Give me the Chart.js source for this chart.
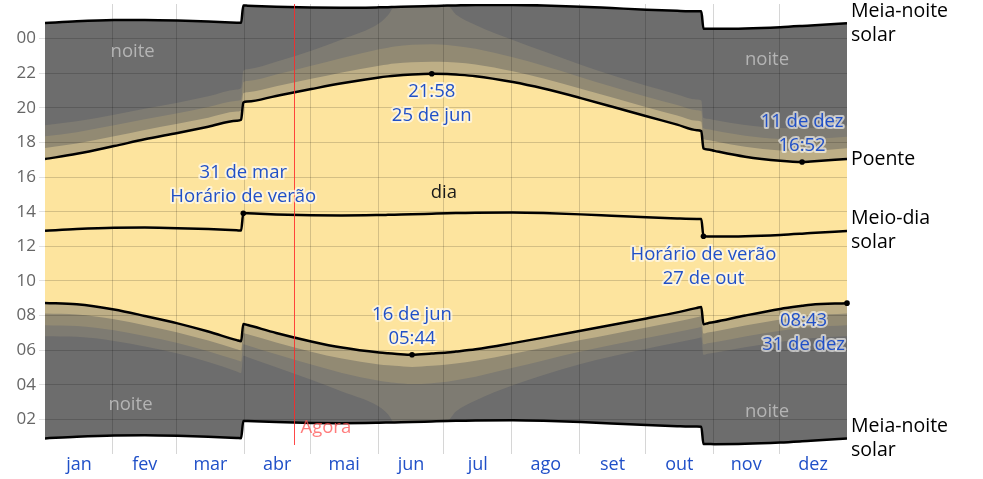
<!DOCTYPE html>
<html><head><meta charset="utf-8">
<script src="https://cdn.jsdelivr.net/npm/chart.js@4.4.1/dist/chart.umd.min.js"></script>
<style>html,body{margin:0;padding:0;background:#fff}#wrap{width:983px;height:479px}</style>
</head><body><div id="wrap"><canvas id="c" width="983" height="479"></canvas></div>
<script>
// ---- data (day of year, hours in local clock time) ----
const days = [0,14.5,31.5,45.5,60.5,74.5,87.5,89.5,90.5,92.5,105.5,121.5,135.5,152.5,156.5,159.5,167.5,176.5,183.5,187.5,196.5,213.5,227.5,244.5,258.5,274.5,288.5,297.5,299.5,300.5,302.5,305.5,319.5,335.5,345.5,349.5,366];
const midnightStart = [0.898,0.997,1.070,1.080,1.050,0.993,0.923,0.913,1.913,1.903,1.843,1.795,1.782,1.807,1.818,1.827,1.850,1.883,1.908,1.920,1.942,1.948,1.918,1.845,1.765,1.673,1.607,1.582,1.577,0.577,0.572,0.570,0.587,0.660,0.730,0.762,0.890];
const astroDawn = [6.804,6.768,6.536,6.211,5.802,5.313,4.766,4.676,5.676,5.586,5.019,4.286,3.610,2.730,2.300,1.827,1.850,1.883,1.908,2.450,3.093,3.973,4.567,5.198,5.631,6.075,6.436,6.668,6.731,5.731,5.794,5.843,6.164,6.483,6.636,6.691,6.803];
const nauticalDawn = [7.443,7.398,7.151,6.820,6.413,5.940,5.424,5.347,6.347,6.270,5.763,5.164,4.683,4.232,4.158,4.115,4.040,4.092,4.179,4.260,4.463,4.979,5.409,5.916,6.292,6.698,7.045,7.277,7.340,6.340,6.403,6.453,6.784,7.117,7.275,7.331,7.443];
const civilDawn = [8.113,8.054,7.783,7.435,7.021,6.553,6.050,5.983,6.983,6.916,6.442,5.913,5.515,5.175,5.125,5.097,5.030,5.096,5.166,5.227,5.382,5.786,6.140,6.580,6.922,7.309,7.654,7.896,7.956,6.956,7.016,7.075,7.424,7.778,7.945,8.004,8.115];
const sunrise = [8.729,8.652,8.349,7.978,7.549,7.076,6.578,6.515,7.515,7.452,6.996,6.505,6.148,5.859,5.818,5.796,5.733,5.805,5.867,5.920,6.055,6.407,6.723,7.126,7.451,7.833,8.184,8.440,8.500,7.500,7.560,7.626,8.000,8.383,8.561,8.624,8.717];
const solarNoon = [12.898,12.997,13.070,13.080,13.050,12.993,12.923,12.913,13.913,13.903,13.843,13.795,13.782,13.807,13.818,13.827,13.850,13.883,13.908,13.920,13.942,13.948,13.918,13.845,13.765,13.673,13.607,13.582,13.577,12.577,12.572,12.570,12.587,12.660,12.730,12.762,12.890];
const sunset = [17.040,17.342,17.791,18.182,18.551,18.910,19.258,19.311,20.311,20.364,20.690,21.085,21.416,21.755,21.818,21.858,21.928,21.967,21.949,21.920,21.829,21.489,21.113,20.564,20.079,19.513,19.030,18.711,18.654,17.654,17.597,17.514,17.174,16.937,16.867,16.900,17.048];
const civilDusk = [17.683,17.940,18.357,18.725,19.079,19.433,19.783,19.843,20.843,20.903,21.244,21.677,22.049,22.439,22.511,22.557,22.637,22.670,22.650,22.613,22.502,22.110,21.696,21.110,20.608,20.037,19.560,19.251,19.198,18.198,18.145,18.065,17.750,17.542,17.515,17.520,17.665];
const nauticalDusk = [18.353,18.596,18.989,19.340,19.687,20.046,20.409,20.479,21.479,21.549,21.923,22.426,22.881,23.382,23.478,23.539,23.641,23.674,23.637,23.580,23.421,22.917,22.427,21.774,21.238,20.648,20.169,19.867,19.814,18.814,18.761,18.687,18.390,18.203,18.185,18.193,18.337];
const astroDusk = [18.992,19.226,19.604,19.949,20.298,20.673,21.063,21.150,22.150,22.237,22.667,23.304,23.954,24.884,25.350,25.827,25.850,25.883,25.908,25.400,24.791,23.923,23.269,22.492,21.899,21.271,20.778,20.476,20.423,19.423,19.370,19.297,19.010,18.837,18.824,18.833,18.977];
const midnightEnd = [24.898,24.997,25.070,25.080,25.050,24.993,24.923,24.913,25.913,25.903,25.843,25.795,25.782,25.807,25.818,25.827,25.850,25.883,25.908,25.920,25.942,25.948,25.918,25.845,25.765,25.673,25.607,25.582,25.577,24.577,24.572,24.570,24.587,24.660,24.730,24.762,24.890];

const monthNames = ['jan','fev','mar','abr','mai','jun','jul','ago','set','out','nov','dez'];
const monthStarts = [0,31,60,91,121,152,182,213,244,274,305,335,366];
const hourTicks = [2,4,6,8,10,12,14,16,18,20,22,24];
const nowDay = 113.5;

// ---- styling ----
const FAM = '"Open Sans", "Noto Sans", sans-serif';
const NIGHT = '#6d6d6d', ASTRO = '#7e7b72', NAUT = '#928a73', CIVIL = '#bdae86', DAY = '#fde49e';
const BLUE = '#2050c8';
const GRID = 'rgba(0,0,0,0.16)';

const monthMids = monthNames.map((m, i) => (monthStarts[i] + monthStarts[i + 1]) / 2);
const xTickVals = monthStarts.slice(1, -1).concat(monthMids).sort((a, b) => a - b);

function ds(values, bg, order, line) {
  return {
    data: days.map((d, i) => ({x: d, y: values[i]})),
    backgroundColor: bg || 'rgba(0,0,0,0)',
    fill: bg ? 'start' : false,
    borderColor: line ? '#000' : 'rgba(0,0,0,0)',
    borderWidth: line ? 2.5 : 1,
    pointRadius: 0,
    cubicInterpolationMode: 'monotone',
    order: order
  };
}

const datasets = [
  ds(midnightEnd, NIGHT, 10, true),
  ds(astroDusk, ASTRO, 9, false),
  ds(nauticalDusk, NAUT, 8, false),
  ds(civilDusk, CIVIL, 7, false),
  ds(sunset, DAY, 6, true),
  ds(sunrise, CIVIL, 5, true),
  ds(civilDawn, NAUT, 4, false),
  ds(nauticalDawn, ASTRO, 3, false),
  ds(astroDawn, NIGHT, 2, false),
  ds(midnightStart, '#ffffff', 1, true),
  ds(solarNoon, null, 0, true)
];

const callouts = [
  {s: solarNoon, i: 8, lines: ['31 de mar', 'Horário de verão'], above: true},
  {s: sunset, i: 17, lines: ['21:58', '25 de jun'], above: false},
  {s: sunrise, i: 16, lines: ['16 de jun', '05:44'], above: true},
  {s: solarNoon, i: 29, lines: ['Horário de verão', '27 de out'], above: false},
  {s: sunset, i: 34, lines: ['11 de dez', '16:52'], above: true},
  {s: sunrise, i: 36, lines: ['08:43', '31 de dez'], above: false}
];
const rightLabels = [
  {s: midnightEnd, lines: ['Meia-noite', 'solar']},
  {s: sunset, lines: ['Poente']},
  {s: solarNoon, lines: ['Meio-dia', 'solar']},
  {s: midnightStart, lines: ['Meia-noite', 'solar']}
];
const areaLabels = [
  {d: 40, h: 23.25, t: 'noite', c: '#b4b4b4'},
  {d: 329.5, h: 22.8, t: 'noite', c: '#b4b4b4'},
  {d: 39, h: 2.86, t: 'noite', c: '#b4b4b4'},
  {d: 329.5, h: 2.45, t: 'noite', c: '#b4b4b4'},
  {d: 182, h: 15.1, t: 'dia', c: '#1a1a1a'}
];

const extras = {
  id: 'extras',
  afterDraw(chart) {
    const {ctx, chartArea: a, scales: {x, y}} = chart;
    ctx.save();
    ctx.font = '18.5px ' + FAM;
    ctx.textAlign = 'center'; ctx.textBaseline = 'middle';
    areaLabels.forEach(l => { ctx.fillStyle = l.c; ctx.fillText(l.t, x.getPixelForValue(l.d), y.getPixelForValue(l.h)); });
    const nx = Math.round(x.getPixelForValue(nowDay)) + 0.5;
    ctx.strokeStyle = 'rgba(255,40,40,0.85)'; ctx.lineWidth = 1;
    ctx.beginPath(); ctx.moveTo(nx, a.top); ctx.lineTo(nx, a.bottom - 9); ctx.stroke();
    ctx.fillStyle = 'rgba(255,80,80,0.75)'; ctx.textAlign = 'left';
    ctx.fillText('Agora', nx + 6, y.getPixelForValue(1.5));
    ctx.font = '18.5px ' + FAM;
    callouts.forEach(c => {
      const px = x.getPixelForValue(days[c.i]), py = y.getPixelForValue(c.s[c.i]);
      ctx.fillStyle = '#000';
      ctx.beginPath(); ctx.arc(px, py, 2.8, 0, Math.PI * 2); ctx.fill();
      const w = Math.max(...c.lines.map(t => ctx.measureText(t).width));
      const cx = Math.min(px, a.right - w / 2 - 2);
      const offs = c.above ? [-40, -16] : [18, 42];
      ctx.textAlign = 'center';
      c.lines.forEach((t, k) => {
        ctx.lineWidth = 4; ctx.lineJoin = 'round'; ctx.strokeStyle = 'rgba(255,255,255,0.6)';
        ctx.strokeText(t, cx, py + offs[k]);
        ctx.fillStyle = BLUE; ctx.fillText(t, cx, py + offs[k]);
      });
    });
    ctx.font = '19.5px ' + FAM; ctx.textAlign = 'left'; ctx.fillStyle = '#000';
    rightLabels.forEach(r => {
      const py = y.getPixelForValue(r.s[r.s.length - 1]);
      const n = r.lines.length;
      r.lines.forEach((t, k) => ctx.fillText(t, a.right + 4, py - (n - 1) * 12 + k * 24));
    });
    ctx.restore();
  }
};

Chart.defaults.font.family = FAM;
new Chart(document.getElementById('c'), {
  type: 'line',
  data: {datasets},
  options: {
    responsive: false, animation: false, devicePixelRatio: 1,
    layout: {padding: {top: 4, right: 136, bottom: 0, left: 0}},
    plugins: {legend: {display: false}, tooltip: {enabled: false}, filler: {drawTime: 'beforeDatasetsDraw'}},
    scales: {
      x: {
        type: 'linear', min: 0, max: 366,
        afterBuildTicks: ax => { ax.ticks = xTickVals.map(v => ({value: v})); },
        grid: {z: 1, drawTicks: false, color: c => (c.tick && monthMids.includes(c.tick.value)) ? 'rgba(0,0,0,0)' : GRID},
        border: {display: false},
        ticks: {autoSkip: false, maxRotation: 0, padding: 0, color: BLUE, font: {size: 18},
          callback: v => { const k = monthMids.indexOf(v); return k >= 0 ? monthNames[k] : ''; }},
        afterFit: s => { s.height = 25; s.paddingLeft = 0; s.paddingRight = 0; }
      },
      y: {
        type: 'linear', min: 0, max: 26,
        afterBuildTicks: ax => { ax.ticks = hourTicks.map(v => ({value: v})); },
        grid: {z: 1, color: GRID, tickLength: 6, tickColor: 'rgba(0,0,0,0.12)'},
        border: {display: false},
        ticks: {padding: 3, color: '#666', font: {size: 17},
          callback: v => String(v % 24).padStart(2, '0')},
        afterFit: s => { s.width = 45; s.paddingTop = 0; s.paddingBottom = 0; }
      }
    }
  },
  plugins: [extras]
});
</script></body></html>
